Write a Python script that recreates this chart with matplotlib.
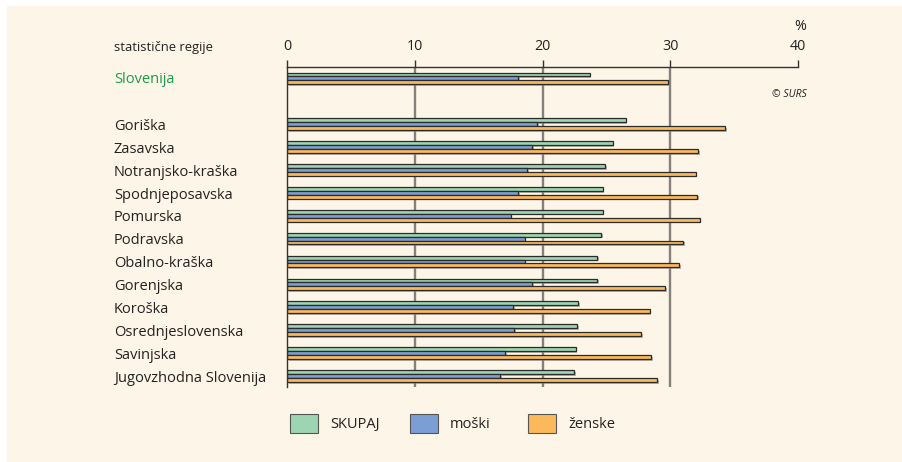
import matplotlib
matplotlib.use("Agg")
import matplotlib.pyplot as plt
import matplotlib.transforms as mtransforms
import matplotlib.patheffects as pe
from matplotlib.patches import Rectangle
import numpy as np

# ---- data ----
regions = ["Slovenija", "Goriška", "Zasavska", "Notranjsko-kraška", "Spodnjeposavska",
           "Pomurska", "Podravska", "Obalno-kraška", "Gorenjska", "Koroška",
           "Osrednjeslovenska", "Savinjska", "Jugovzhodna Slovenija"]
skupaj = [23.7, 26.5, 25.5, 24.9, 24.7, 24.7, 24.6, 24.3, 24.3, 22.8, 22.7, 22.6, 22.5]
moski = [18.1, 19.6, 19.2, 18.8, 18.1, 17.5, 18.6, 18.6, 19.2, 17.7, 17.8, 17.1, 16.7]
zenske = [29.8, 34.3, 32.2, 32.0, 32.1, 32.3, 31.0, 30.7, 29.6, 28.4, 27.7, 28.5, 29.0]
series_names = ["SKUPAJ", "moški", "ženske"]
xticks = [0, 10, 20, 30, 40]
row_pos = [0] + list(range(2, 14))

FONT = "Open Sans"
plt.rcParams["font.family"] = [FONT, "DejaVu Sans"]

W, H = 903, 462
fig = plt.figure(figsize=(W / 100, H / 100), dpi=100, facecolor="white")
cream = "#fdf5e8"
fig.patches.append(Rectangle((7 / W, 0), 1, (H - 6) / H, transform=fig.transFigure,
                             facecolor=cream, edgecolor="none", zorder=-10))

left, right, top, bottom = 287, 798, 66.5, 387
ax = fig.add_axes([left / W, (H - bottom) / H, (right - left) / W, (bottom - top) / H])
ax.set_facecolor("none")

colors = ["#9dd4b1", "#7b9fd4", "#fcb95b"]
edge = "#2b2b2b"
bh = 0.17
offsets = [-bh, 0, bh]
y = np.array(row_pos, dtype=float)
shadow = [pe.SimplePatchShadow(offset=(1.2, -1.2), shadow_rgbFace="#888888", alpha=0.6), pe.Normal()]
for vals, c, off, name in zip([skupaj, moski, zenske], colors, offsets, series_names):
    ax.barh(y + off, vals, height=bh, color=c, edgecolor=edge, linewidth=0.9,
            label=name, zorder=3, path_effects=shadow)

ax.set_xlim(0, 40)
ax.set_ylim(13.48, -0.52)

# grid lines
for xv in [10, 20, 30]:
    ax.axvline(xv, color="#85807b", linewidth=1.7, zorder=1)

for s in ["right", "bottom"]:
    ax.spines[s].set_visible(False)
ax.spines["top"].set_color("#333333")
ax.spines["top"].set_linewidth(1.0)
ax.spines["left"].set_color("#333333")
ax.spines["left"].set_linewidth(1.0)
ax.spines["left"].set_zorder(4)

ax.xaxis.tick_top()
ax.set_xticks(xticks)
ax.set_xticklabels([str(t) for t in xticks], fontsize=10.3, color="#222222")
ax.tick_params(axis="x", length=4.7, width=1.0, color="#333333", pad=4.0)
ax.set_yticks([])

# row labels
trans = mtransforms.blended_transform_factory(fig.transFigure, ax.transData)
for r, name in zip(row_pos, regions):
    if name == "Slovenija":
        ax.text(114 / W, r + 0.22, name, transform=trans, ha="left", va="baseline",
                fontsize=10.5, color="#1a9e4a")
    else:
        ax.text(114 / W, r + 0.25, name, transform=trans, ha="left", va="baseline",
                fontsize=10.5, color="#222222")

fig.text(114 / W, 1 - 51 / H, "statistične regije", ha="left", va="baseline",
         fontsize=9.4, color="#222222")
fig.text(800 / W, 1 - 27 / H, "%", ha="center", va="center", fontsize=10.3, color="#222222")
fig.text(807 / W, 1 - 94.5 / H, "© SURS", ha="right", va="center", fontsize=7.5,
         style="italic", color="#222222")

# legend
leg_x = [290, 410, 528]
for lx, c, name in zip(leg_x, colors, series_names):
    fig.patches.append(Rectangle((lx / W, 1 - 433 / H), 28 / W, 19 / H,
                                 transform=fig.transFigure, facecolor=c,
                                 edgecolor="#555555", linewidth=0.8))
    fig.text((lx + 40) / W, 1 - 424.5 / H, name, ha="left", va="center",
             fontsize=10.5, color="#222222")

fig.savefig("out.png", dpi=100, facecolor=fig.get_facecolor())
